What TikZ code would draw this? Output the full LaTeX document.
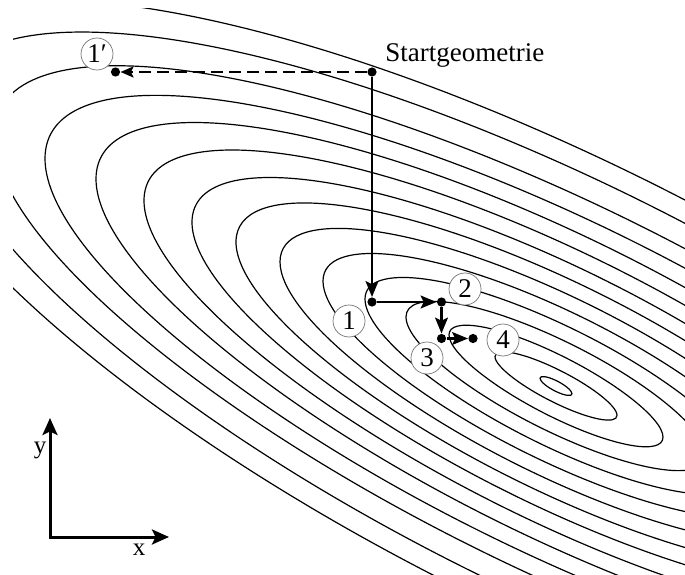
\documentclass[tikz,border=0pt]{standalone}
\usepackage{fontspec}
\setmainfont{Liberation Serif}
\usetikzlibrary{arrows.meta}

\begin{document}
\begin{tikzpicture}[x=0.5pt, y=0.5pt,
  contour/.style={line width=0.6pt},
  dot/.style={circle, fill=black, inner sep=0pt, minimum size=4.6pt},
  num/.style={circle, draw=black!55, line width=0.35pt, fill=white, inner sep=0pt, minimum size=16pt, font=\fontsize{13.5}{13.5}\selectfont},
  arr/.style={-{Stealth[length=8pt, width=6.5pt, inset=1.6pt]}, line width=1.1pt},
  dasharr/.style={-{Stealth[length=6.5pt, width=5.5pt, inset=1.3pt]}, line width=1.1pt, dash pattern=on 6pt off 3pt},
  axis/.style={{Stealth[length=8.5pt, width=7.5pt, inset=1.8pt]}-{Stealth[length=8.5pt, width=7.5pt, inset=1.8pt]}, line width=1.5pt, line join=miter},
  lbl/.style={font=\fontsize{13.5}{14}\selectfont, inner sep=0pt}
]
\useasboundingbox (0,0) rectangle (685,574);
\coordinate (c) at (556,188);
\begin{scope}
  \clip (13,0) rectangle (685,565);
  \foreach \X/\h/\m in {16/5.5/0.48, 61/17.5/0.48, 107/33/0.477, 150/49/0.46, 191/65/0.455,
                        233/81/0.45, 276/97/0.45, 320/113/0.45, 364/129/0.45, 412/146/0.45,
                        460/163/0.45, 511/181/0.445, 562/200/0.445, 614/225/0.445, 666/248/0.445} {
    \pgfmathsetmacro\sk{-\m*\X}
    \draw[contour, shift={(c)}, cm={\X,\sk,0,\h,(0,0)}] (0,0) circle (1);
  }
\end{scope}

\node[dot] (s0) at (372,502) {};
\node[dot] (q1) at (115.5,502) {};
\node[dot] (p1) at (372,272) {};
\node[dot] (p2) at (441.5,272) {};
\node[dot] (p3) at (441.5,235.5) {};
\node[dot] (p4) at (473,235.5) {};

\node[num] (n1q) at (97,520) {1′};
\node[num] (n1) at (349,253) {1};
\node[num] (n2) at (465,285) {2};
\node[num] (n3) at (427,216) {3};
\node[num] (n4) at (503,234) {4};
\node[lbl, anchor=base west] (start) at (385,512) {Startgeometrie};

\draw[dasharr] (s0) -- (q1);
\draw[arr] (s0) -- (p1);
\draw[arr] (p1) -- (p2);
\draw[arr] (p2) -- (p3);
\draw[arr] (p3) -- (p4);

\coordinate (o) at (50,37);
\coordinate (xt) at (169,37);
\coordinate (yt) at (50,156);
\draw[axis] (yt) -- (o) -- (xt);
\node[lbl, font=\fontsize{12.5}{12.5}\selectfont] (ylab) at (40,124) {y};
\node[lbl, font=\fontsize{12.5}{12.5}\selectfont] (xlab) at (139,24) {x};
\end{tikzpicture}
\end{document}
